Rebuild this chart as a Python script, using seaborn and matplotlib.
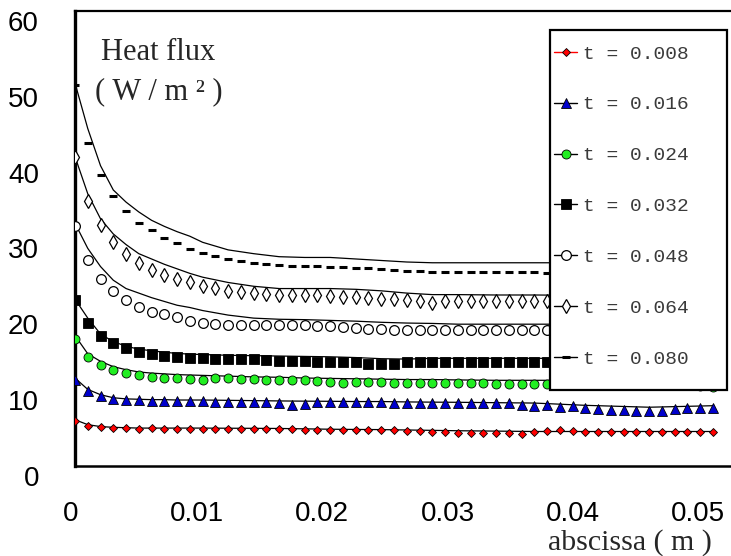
import numpy as np
import matplotlib
matplotlib.use("Agg")
import matplotlib.pyplot as plt
import matplotlib.transforms as mtransforms
from matplotlib.lines import Line2D
from matplotlib.patches import Rectangle
import seaborn as sns

# sampled points along the abscissa (m)
x_pts = np.round(np.arange(51) * 0.001, 3)

# heat flux at the sampled points, one list per time
q_008 = [5.93, 5.30, 5.13, 5.05, 4.95, 4.92, 4.95, 4.92, 4.92, 4.92,
         4.92, 4.92, 4.92, 4.92, 4.92, 4.92, 4.92, 4.92, 4.79, 4.79,
         4.79, 4.79, 4.79, 4.79, 4.70, 4.70, 4.56, 4.56, 4.47, 4.47,
         4.39, 4.39, 4.39, 4.39, 4.39, 4.26, 4.47, 4.62, 4.70, 4.60,
         4.47, 4.47, 4.47, 4.47, 4.47, 4.47, 4.47, 4.47, 4.47, 4.47, 4.47]
q_016 = [11.4, 9.85, 9.28, 8.8, 8.66, 8.7, 8.62, 8.62, 8.53, 8.53,
         8.53, 8.44, 8.44, 8.44, 8.44, 8.44, 8.3, 8.0, 8.13, 8.44,
         8.4, 8.4, 8.4, 8.4, 8.4, 8.35, 8.35, 8.35, 8.3, 8.3,
         8.3, 8.3, 8.3, 8.3, 8.3, 8.0, 7.87, 8.0, 7.78, 7.85,
         7.7, 7.56, 7.43, 7.34, 7.25, 7.25, 7.25, 7.56, 7.7, 7.7, 7.7]
q_024 = [16.7, 14.4, 13.3, 12.6, 12.2, 11.97, 11.75, 11.66, 11.57, 11.48,
         11.4, 11.6, 11.6, 11.44, 11.44, 11.4, 11.3, 11.3, 11.3, 11.18,
         11.08, 10.95, 11.08, 11.1, 11.05, 11.0, 11.0, 11.0, 11.0, 11.0,
         11.0, 10.95, 10.95, 10.87, 10.87, 10.87, 10.87, 10.87, 10.85, 10.85,
         10.85, 10.85, 10.85, 10.85, 10.85, 10.85, 10.85, 10.8, 10.75, 10.6, 10.4]
q_032 = [21.9, 18.85, 17.2, 16.16, 15.6, 15.05, 14.83, 14.5, 14.4, 14.3,
         14.2, 14.17, 14.05, 14.05, 14.05, 13.95, 13.9, 13.9, 13.8, 13.7,
         13.7, 13.65, 13.65, 13.5, 13.5, 13.5, 13.7, 13.7, 13.7, 13.7,
         13.7, 13.7, 13.7, 13.7, 13.7, 13.7, 13.7, 13.7, 13.7, 13.7,
         13.7, 13.7, 13.7, 13.7, 13.7, 13.7, 13.7, 13.7, 13.7, 13.7, 13.7]
q_048 = [31.7, 27.1, 24.6, 23.1, 21.9, 21.0, 20.3, 20.0, 19.6, 19.15,
         18.9, 18.75, 18.65, 18.6, 18.6, 18.6, 18.6, 18.6, 18.6, 18.5,
         18.4, 18.3, 18.25, 18.1, 18.05, 17.95, 18.0, 18.0, 18.0, 18.0,
         18.0, 18.0, 18.0, 18.0, 18.0, 17.95, 17.9, 17.9, 17.9, 17.9,
         17.9, 17.9, 17.9, 17.9, 17.9, 17.9, 17.9, 17.9, 17.9, 17.9, 17.9]
q_064 = [40.8, 35.0, 31.8, 29.5, 28.0, 26.75, 25.86, 25.2, 24.67, 24.2,
         23.74, 23.44, 23.1, 22.9, 22.86, 22.7, 22.55, 22.55, 22.55, 22.5,
         22.45, 22.35, 22.25, 22.2, 22.0, 22.0, 21.95, 21.76, 21.5, 21.76,
         21.76, 21.76, 21.7, 21.7, 21.7, 21.7, 21.7, 21.7, 21.7, 21.7,
         21.7, 21.7, 21.7, 21.7, 21.7, 21.7, 21.7, 21.7, 21.7, 21.7, 21.7]
q_080 = [50.3, 42.6, 38.4, 35.6, 33.6, 32.1, 31.1, 30.1, 29.4, 28.6,
         28.1, 27.7, 27.3, 27.0, 26.8, 26.7, 26.5, 26.4, 26.4, 26.4,
         26.3, 26.3, 26.15, 26.08, 25.95, 25.86, 25.77, 25.77, 25.6, 25.6,
         25.6, 25.55, 25.55, 25.55, 25.55, 25.55, 25.55, 25.5, 25.5, 25.5,
         25.5, 25.5, 25.5, 25.5, 25.5, 25.5, 25.5, 25.5, 25.5, 25.5, 25.5]

# solid reference curves (abscissa in mm)
x_curve_mm = [0, 1, 2, 3, 4, 5, 6, 7, 8, 9, 10, 12, 14, 16, 18, 20,
              22, 24, 26, 28, 30, 33, 36, 40, 45, 50]
c_008 = [6.1, 5.45, 5.2, 5.1, 5.05, 5.0, 5.0, 5.0, 5.0, 5.0, 5.0, 4.98, 4.97,
         4.95, 4.9, 4.85, 4.82, 4.8, 4.75, 4.7, 4.65, 4.6, 4.55, 4.55, 4.55, 4.55]
c_016 = [11.6, 10.1, 9.4, 9.0, 8.85, 8.8, 8.75, 8.75, 8.7, 8.7, 8.7, 8.66, 8.62,
         8.58, 8.55, 8.53, 8.5, 8.5, 8.45, 8.42, 8.4, 8.35, 8.3, 8.0, 7.75, 7.95]
c_024 = [17.2, 14.8, 13.8, 13.1, 12.7, 12.4, 12.25, 12.15, 12.05, 12.0, 11.95,
         11.85, 11.75, 11.7, 11.6, 11.55, 11.5, 11.45, 11.4, 11.4, 11.35, 11.3,
         11.3, 11.3, 11.3, 11.3]
c_032 = [22.0, 19.5, 17.4, 16.4, 15.8, 15.4, 15.2, 15.0, 14.85, 14.75, 14.7,
         14.6, 14.55, 14.5, 14.45, 14.4, 14.3, 14.15, 14.1, 14.2, 14.2, 14.2,
         14.2, 14.2, 14.2, 14.2]
c_048 = [32.0, 28.7, 26.3, 24.5, 23.4, 22.8, 22.2, 21.7, 21.2, 20.9, 20.5,
         19.9, 19.5, 19.35, 19.3, 19.2, 19.1, 18.95, 18.85, 18.8, 18.7, 18.7,
         18.7, 18.7, 18.7, 18.7]
c_064 = [40.8, 35.9, 32.6, 30.6, 29.2, 28.0, 27.3, 26.6, 26.0, 25.4, 24.9,
         24.2, 23.7, 23.4, 23.4, 23.4, 23.3, 23.1, 22.8, 22.6, 22.6, 22.55,
         22.55, 22.5, 22.5, 22.5]
c_080 = [50.5, 44.5, 39.6, 36.4, 34.8, 33.5, 32.4, 31.6, 30.9, 30.3, 29.5,
         28.5, 28.0, 27.6, 27.5, 27.5, 27.3, 27.1, 26.9, 26.8, 26.8, 26.8,
         26.8, 26.8, 26.8, 26.8]

labels = ["t = 0.008", "t = 0.016", "t = 0.024", "t = 0.032",
          "t = 0.048", "t = 0.064", "t = 0.080"]
xtick_vals = [0, 0.01, 0.02, 0.03, 0.04, 0.05]
xtick_labels = ["0", "0.01", "0.02", "0.03", "0.04", "0.05"]
ytick_vals = [0, 10, 20, 30, 40, 50, 60]

points = [q_008, q_016, q_024, q_032, q_048, q_064, q_080]
curves = [c_008, c_016, c_024, c_032, c_048, c_064, c_080]

# marker style for each time
styles = [
    dict(marker="D", markersize=4.5, markerfacecolor="#ff0000", markeredgecolor="black", markeredgewidth=0.6),
    dict(marker="^", markersize=6.5, markerfacecolor="#0000cc", markeredgecolor="black", markeredgewidth=0.6),
    dict(marker="o", markersize=6.5, markerfacecolor="#22ee22", markeredgecolor="black", markeredgewidth=0.6),
    dict(marker="s", markersize=6.5, markerfacecolor="black", markeredgecolor="black", markeredgewidth=0.6),
    dict(marker="o", markersize=7, markerfacecolor="white", markeredgecolor="black", markeredgewidth=0.9),
    dict(marker="d", markersize=7.5, markerfacecolor="white", markeredgecolor="black", markeredgewidth=0.9),
    dict(marker="_", markersize=6, markerfacecolor="black", markeredgecolor="black", markeredgewidth=2.2),
]

sns.set_style("white")
plt.rcParams["font.family"] = ["Liberation Sans", "DejaVu Sans"]

W, H = 731, 556
fig = plt.figure(figsize=(W / 100, H / 100), dpi=100)
ax = fig.add_axes([75 / W, 90 / H, 656 / W, 455 / H])

x_curve = np.array(x_curve_mm) / 1000.0
for c in curves:
    sns.lineplot(x=x_curve, y=c, ax=ax, color="black", linewidth=0.9,
                 estimator=None, sort=False, zorder=2)
for q, st in zip(points, styles):
    sns.lineplot(x=x_pts, y=q, ax=ax, linestyle="none", estimator=None,
                 sort=False, zorder=3, **st)

ax.set_xlim(0, 0.05 * 656 / 638)
ax.set_ylim(0, 60)
ax.set_xticks(xtick_vals)
ax.set_xticklabels(xtick_labels, fontsize=20)
ax.set_yticks(ytick_vals)
ax.set_yticklabels([str(v) for v in ytick_vals], fontsize=20)
ax.set_xlabel("")
ax.set_ylabel("")
ax.tick_params(axis="x", direction="inout", length=14, width=1.2, pad=18, colors="black")
ax.tick_params(axis="y", direction="inout", length=12, width=1.2, pad=20, colors="black")
ax.yaxis.get_major_ticks()[-1].tick1line.set_visible(False)

# the labels sit a little below / left of their ticks in the original
shift = mtransforms.ScaledTranslation(0, -0.10, fig.dpi_scale_trans)
for lab in ax.get_yticklabels():
    lab.set_transform(lab.get_transform() + shift)
x_shift_px = [-4, -6, -8, -10, -12, -15]
for lab, dx in zip(ax.get_xticklabels(), x_shift_px):
    lab.set_transform(lab.get_transform() +
                      mtransforms.ScaledTranslation(dx / 100, 0, fig.dpi_scale_trans))

ax.spines["right"].set_visible(False)
ax.spines["left"].set_linewidth(2.4)
ax.spines["bottom"].set_linewidth(1.8)
ax.spines["top"].set_linewidth(1.6)
for s in ax.spines.values():
    s.set_color("black")

# axis titles
fig.text(158 / W, 1 - 52 / H, "Heat flux", family="Liberation Serif", fontsize=22,
         ha="center", va="center")
fig.text(159 / W, 1 - 92 / H, "( W / m ² )", family="Liberation Serif", fontsize=22,
         ha="center", va="center")
fig.text(712 / W, 1 - 543 / H, "abscissa ( m )", family="Liberation Serif", fontsize=21.5,
         ha="right", va="center")

# legend with an opaque box laid over the curves
fig.add_artist(Rectangle((550 / W, 1 - 390 / H), 177 / W, 360 / H, transform=fig.transFigure,
                         facecolor="white", edgecolor="black", linewidth=1.6, zorder=4))
handles = []
for i, st in enumerate(styles):
    handles.append(Line2D([], [], color="red" if i == 0 else "black", linewidth=1.0, **st))
leg = fig.legend(handles, labels, loc="upper left", bbox_to_anchor=(554 / W, 1 - 45 / H),
                 bbox_transform=fig.transFigure, frameon=False, borderpad=0, borderaxespad=0,
                 handlelength=1.2, handletextpad=0.3, labelspacing=1.71,
                 prop={"family": "Liberation Mono", "size": 14})
leg.set_zorder(5)
for t in leg.get_texts():
    t.set_color("#3a3a3a")

fig.savefig("out.png", dpi=100)
